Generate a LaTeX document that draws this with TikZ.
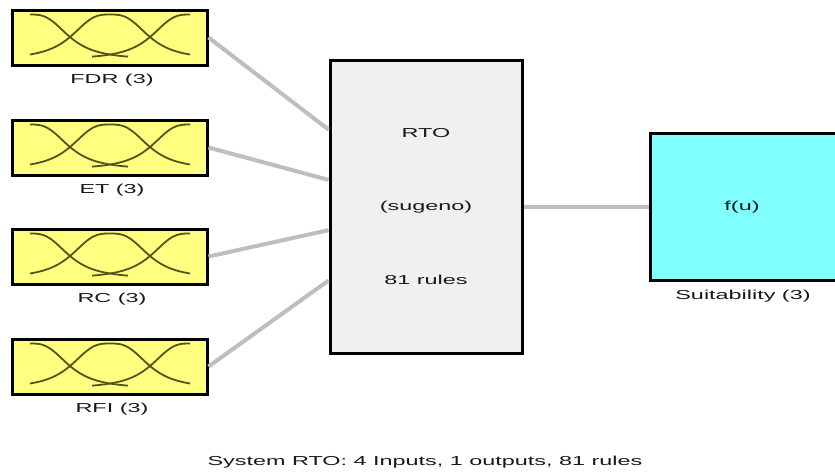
\documentclass[tikz,border=0pt]{standalone}
\usepackage{fontspec}
\setmainfont{Liberation Sans}
\usepackage{graphicx}
\usetikzlibrary{calc}
\newcommand{\wtxt}[1]{\scalebox{1.8}[1]{#1}}
\definecolor{inyellow}{RGB}{255,255,128}
\definecolor{rulegray}{RGB}{240,240,240}
\definecolor{outcyan}{RGB}{128,255,255}
\definecolor{linkgray}{RGB}{190,190,190}
\definecolor{mfcol}{RGB}{85,85,25}
\begin{document}
\begin{tikzpicture}[x=1pt,y=-1pt,
  inbox/.style={draw=black,line width=3pt,fill=inyellow,minimum width=195pt,minimum height=55pt,inner sep=0pt},
  rulebox/.style={draw=black,line width=3pt,fill=rulegray,minimum width=192pt,minimum height=293pt,inner sep=0pt},
  outbox/.style={draw=black,line width=3pt,fill=outcyan,minimum width=190pt,minimum height=147pt,inner sep=0pt},
  lab/.style={font=\fontsize{13}{15}\selectfont,inner sep=0pt,text=black!90},
  link/.style={draw=linkgray,line width=4pt},
  mf/.style={draw=mfcol,line width=1.8pt}]
\path[use as bounding box] (0,0) rectangle (835,475);
\fill[white] (0,0) rectangle (835,475);
\node[rulebox] (ctr) at (426,206.5) {};
\node[outbox] (out) at (745,206.5) {};
\draw[link] (ctr.east) -- (out.west);
\foreach \nm/\yc/\lab/\fr in {fdr/37.5/FDR/0.24, et/147.5/ET/0.41, rc/256.5/RC/0.58, rfi/366.5/RFI/0.75}{
  \node[inbox] (\nm) at (109.5,\yc) {};
  \draw[link] (\nm.east) -- ($(ctr.north west)!\fr!(ctr.south west)$);
  \draw[mf] plot[domain=30:128,samples=50] (\x,{\yc+22 - 45/(1+(abs(\x-30)/40)^3)});
  \draw[mf] plot[domain=30:190,samples=80] (\x,{\yc+22 - 45/(1+(abs(\x-110)/40)^3)});
  \draw[mf] plot[domain=92:190,samples=50] (\x,{\yc+22 - 45/(1+(abs(\x-190)/40)^3)});
  \node[lab] (\nm lab) at (112,\yc+42.5) {\wtxt{\lab\ (3)}};
}
\node[lab] (rto) at (426,133) {\wtxt{RTO}};
\node[lab] (sug) at (426,207) {\wtxt{(sugeno)}};
\node[lab] (rules) at (426,280) {\wtxt{81 rules}};
\node[lab] (fu) at (742,207) {\wtxt{f(u)}};
\node[lab] (outlab) at (743,296) {\wtxt{Suitability (3)}};
\node[lab] (cap) at (425,462) {\wtxt{System RTO: 4 Inputs, 1 outputs, 81 rules}};
\end{tikzpicture}
\end{document}
